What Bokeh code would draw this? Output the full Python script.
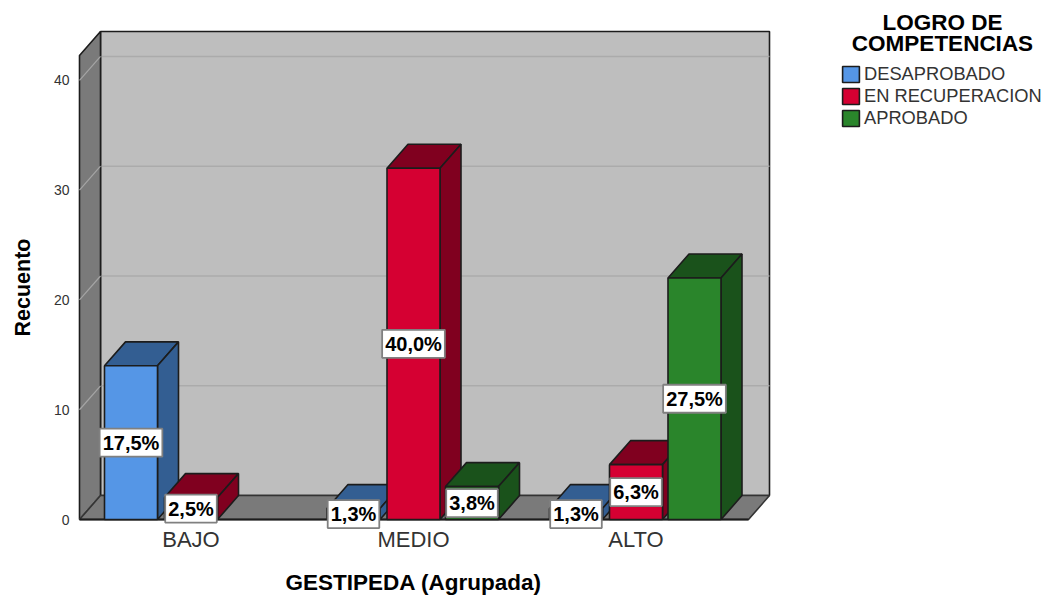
from bokeh.plotting import figure
from bokeh.models import ColumnDataSource, FixedTicker, Legend, LegendItem, Range1d, Title
from bokeh.core.properties import value
from bokeh.embed import file_html
from bokeh.resources import INLINE

categories = ["BAJO", "MEDIO", "ALTO"]
desaprobado = [14, 1, 1]
recuperacion = [2, 32, 5]
aprobado = [0, 3, 22]
pct_desaprobado = ["17,5%", "1,3%", "1,3%"]
pct_recuperacion = ["2,5%", "40,0%", "6,3%"]
pct_aprobado = ["", "3,8%", "27,5%"]
y_ticks = [0, 10, 20, 30, 40]

series = [
    ("DESAPROBADO", desaprobado, pct_desaprobado, "#5596E6", "#335E92", -60),
    ("EN RECUPERACION", recuperacion, pct_recuperacion, "#D50032", "#80001F", 0),
    ("APROBADO", aprobado, pct_aprobado, "#2A852B", "#1A521B", 58.5),
]

PX_X = 222.5           # pixels per category
PX_Y = 11.0            # pixels per count
DX = 21 / PX_X         # 3D depth, in data units
DY = 24 / PX_Y
BAR = 53 / PX_X
WALL_L = (79 - 190.5) / PX_X
WALL_R = (748 - 190.5) / PX_X
WALL_T = 42.27
EDGE = "#1c1c1c"
FONT = "Liberation Sans"

p = figure(width=1047, height=597, output_backend="svg", toolbar_location=None,
           x_range=Range1d((70 - 190.5) / PX_X, (1047 - 190.5) / PX_X),
           y_range=Range1d((520 - 532) / PX_Y, (520 - 8) / PX_Y),
           min_border_left=70, min_border_right=0, min_border_top=8, min_border_bottom=65,
           background_fill_color="white", border_fill_color="white", outline_line_color=None)
p.grid.visible = False

# walls and floor
p.patch([WALL_L + DX, WALL_R + DX, WALL_R + DX, WALL_L + DX],
        [DY, DY, WALL_T + DY, WALL_T + DY],
        fill_color="#BEBEBE", line_color=EDGE, line_width=1.6)
p.segment([WALL_L + DX] * 4, [t + DY for t in y_ticks[1:]], [WALL_R + DX] * 4, [t + DY for t in y_ticks[1:]],
          line_color="#ABABAB", line_width=1.5)
p.patch([WALL_L, WALL_L + DX, WALL_L + DX, WALL_L],
        [0, DY, WALL_T + DY, WALL_T],
        fill_color="#7A7A7A", line_color=EDGE, line_width=1.6)
p.segment([WALL_L] * 5, y_ticks, [WALL_L + DX] * 5, [t + DY for t in y_ticks],
          line_color="#A5A5A5", line_width=1.2)
p.patch([WALL_L, WALL_R, WALL_R + DX, WALL_L + DX],
        [0, 0, DY, DY],
        fill_color="#7A7A7A", line_color="#333333", line_width=1.6)
p.line([WALL_L, WALL_R], [0, 0], line_color=EDGE, line_width=2)

# bars
items = []
for name, vals, _, front, dark, off in series:
    xs = [i + off / PX_X for i, v in enumerate(vals) if v > 0]
    hs = [v for v in vals if v > 0]
    p.patches([[x - BAR / 2, x + BAR / 2, x + BAR / 2 + DX, x - BAR / 2 + DX] for x in xs],
              [[h, h, h + DY, h + DY] for h in hs],
              fill_color=dark, line_color=EDGE, line_width=1.6)
    p.patches([[x + BAR / 2, x + BAR / 2 + DX, x + BAR / 2 + DX, x + BAR / 2] for x in xs],
              [[0, DY, h + DY, h] for h in hs],
              fill_color=dark, line_color=EDGE, line_width=1.6)
    src = ColumnDataSource(dict(left=[x - BAR / 2 for x in xs], right=[x + BAR / 2 for x in xs],
                                top=hs, bottom=[0] * len(hs)))
    r = p.quad(left="left", right="right", top="top", bottom="bottom", source=src,
               fill_color=front, line_color=EDGE, line_width=1.6)
    items.append(LegendItem(label=name, renderers=[r]))

# value labels
for name, vals, labels, front, dark, off in series:
    rows = [(i + off / PX_X, v / 2, t) for i, (v, t) in enumerate(zip(vals, labels)) if v > 0]
    p.text([r[0] for r in rows], [r[1] for r in rows], text=[r[2] for r in rows],
           text_font=value(FONT), text_font_style="bold", text_font_size="20px",
           text_color="black", text_align="center", text_baseline="middle",
           background_fill_color="white", border_line_color="#808080", border_line_width=1.8,
           padding=3)

# axes (a blank 1px axis label acts as a spacer before the off-centre titles)
p.yaxis.ticker = FixedTicker(ticks=y_ticks)
p.yaxis.axis_line_color = None
p.yaxis.major_tick_line_color = None
p.yaxis.minor_tick_line_color = None
p.yaxis.major_label_text_font = FONT
p.yaxis.major_label_text_font_size = "14px"
p.yaxis.major_label_text_color = "#333333"
p.yaxis.major_label_standoff = -5
p.yaxis.axis_label = " "
p.yaxis.axis_label_text_font_size = "1px"
p.yaxis.axis_label_standoff = 4

p.xaxis.ticker = FixedTicker(ticks=[0, 1, 2])
p.xaxis.major_label_overrides = {i: c for i, c in enumerate(categories)}
p.xaxis.axis_line_color = None
p.xaxis.major_tick_line_color = None
p.xaxis.minor_tick_line_color = None
p.xaxis.major_label_text_font = FONT
p.xaxis.major_label_text_font_size = "22px"
p.xaxis.major_label_text_color = "#333333"
p.xaxis.major_label_standoff = -11
p.xaxis.axis_label = " "
p.xaxis.axis_label_text_font_size = "1px"
p.xaxis.axis_label_standoff = 6

# axis titles sit off-centre relative to the frame, so they are titles with an offset
p.add_layout(Title(text="GESTIPEDA (Agrupada)", align="left", offset=215, standoff=6,
                   text_font=FONT, text_font_style="bold", text_font_size="22.5px",
                   text_color="black"), "below")
p.add_layout(Title(text="Recuento", align="left", offset=195, standoff=16,
                   text_font=FONT, text_font_style="bold", text_font_size="21.5px",
                   text_color="black"), "left")

# legend
title_x = (942 - 190.5) / PX_X
p.text([title_x, title_x], [(520 - 22) / PX_Y, (520 - 43) / PX_Y], text=["LOGRO DE", "COMPETENCIAS"],
       text_font=value(FONT), text_font_style="bold", text_font_size="22.5px",
       text_color="black", text_align="center", text_baseline="middle")
legend = Legend(items=items, location=(770, 402), orientation="vertical",
                border_line_color=None, background_fill_alpha=0, padding=0, margin=0,
                spacing=0, glyph_width=21, glyph_height=20, label_height=17, label_standoff=3,
                label_text_font=FONT, label_text_font_size="18.3px", label_text_color="#333333",
                label_text_baseline="middle")
p.add_layout(legend, "center")

open("out.html", "w").write(file_html(p, INLINE))
